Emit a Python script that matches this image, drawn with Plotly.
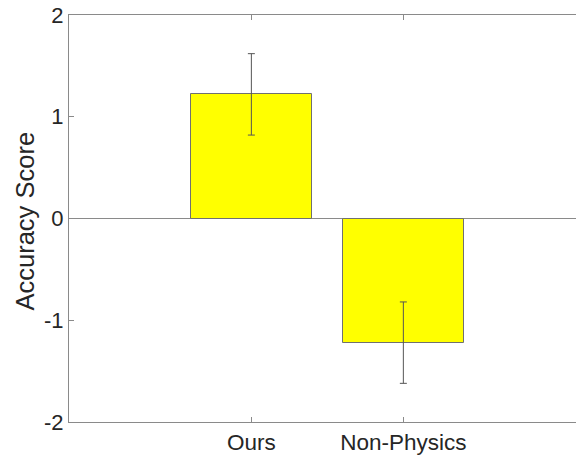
import plotly.graph_objects as go

categories = ["Ours", "Non-Physics"]
values = [1.22, -1.22]
errors = [0.40, 0.40]
positions = [1, 2]

fig = go.Figure()
fig.add_trace(go.Bar(
    x=positions, y=values, width=0.8,
    marker=dict(color="#ffff00", line=dict(color="#707070", width=1)),
    error_y=dict(type="data", array=errors, visible=True, color="#555555", thickness=1, width=3.5),
    showlegend=False,
))

font_family = "Liberation Sans, Arial, sans-serif"
fig.update_layout(
    width=576, height=457,
    margin=dict(l=69, r=0, t=15, b=35),
    plot_bgcolor="white", paper_bgcolor="white",
    font=dict(family=font_family, size=22, color="#262626"),
    xaxis=dict(
        range=[-0.2, 3.136], tickmode="array", tickvals=positions, ticktext=categories,
        showline=True, linecolor="#8a8a8a", linewidth=1, mirror="ticks",
        ticks="inside", ticklen=5, tickcolor="#8a8a8a", showgrid=False, zeroline=False,
        tickfont=dict(size=22.5), automargin=False,
    ),
    yaxis=dict(
        range=[-2, 2], tickvals=[-2, -1, 0, 1, 2], ticktext=["-2", "-1", "0", "1", "2"],
        showline=True, linecolor="#8a8a8a", linewidth=1,
        ticks="inside", ticklen=5, tickcolor="#8a8a8a", showgrid=False,
        zeroline=True, zerolinecolor="#8a8a8a", zerolinewidth=1,
        tickfont=dict(size=22), automargin=False,
    ),
    annotations=[dict(
        text="Accuracy Score", textangle=-90, showarrow=False,
        xref="paper", yref="paper", x=(24 - 69) / 507, y=(422 - 221.5) / 407,
        xanchor="center", yanchor="middle", font=dict(size=25.5, color="#262626"),
    )],
    bargap=0,
)

fig.write_html(
    "out.html",
    config={"displayModeBar": False},
    post_script="document.body.style.margin='0';document.body.style.overflow='hidden';",
)
